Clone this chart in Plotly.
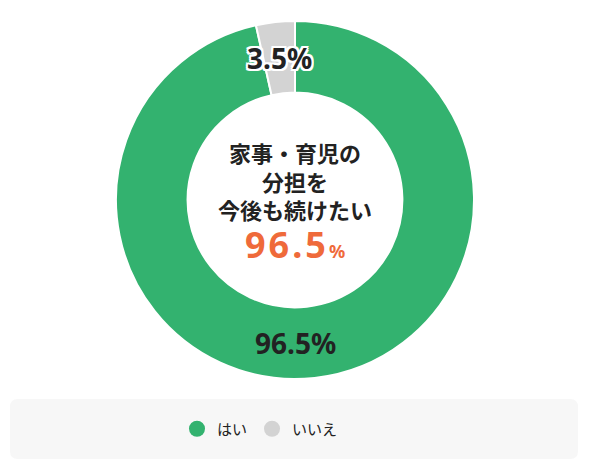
import math
import plotly.graph_objects as go

labels = ["はい", "いいえ"]
values = [96.5, 3.5]
colors = ["#33b26f", "#d3d3d3"]
center_lines = ["家事・育児の", "分担を", "今後も続けたい"]
highlight_value = 96.5

# the page body has an 8px margin, so the figure is a bit smaller than the window
OFF = 8
W, H = 590 - 2 * OFF, 471 - 2 * OFF


def fx(x):
    # screen pixel -> paper x
    return (x - OFF) / W


def fy(y):
    # screen pixel -> paper y
    return 1 - (y - OFF) / H


cx, cy = 295, 200          # donut centre on screen
r_out, hole = 179, 0.6
r_mid = r_out * (1 + hole) / 2

fig = go.Figure()

fig.add_trace(go.Pie(
    labels=labels, values=values, hole=hole, sort=False,
    direction="clockwise", rotation=0,
    marker=dict(colors=colors, line=dict(color="white", width=2)),
    textinfo="none", hoverinfo="label+percent", showlegend=False,
    domain=dict(x=[fx(cx - r_out), fx(cx + r_out)],
                y=[fy(cy + r_out), fy(cy - r_out)]),
))

# legend entries with round markers
for lab, col in zip(labels, colors):
    fig.add_trace(go.Scatter(x=[None], y=[None], mode="markers", name=lab,
                             marker=dict(color=col, size=17, symbol="circle")))

# slice labels on the ring
outline = ", ".join(f"{dx}px {dy}px 0 #fff" for dx in (-2, 0, 2) for dy in (-2, 0, 2)
                    if (dx, dy) != (0, 0))
total = sum(values)
start = 0
for lab, v in zip(labels, values):
    small = v / total < 0.1
    ang = (start + v / 2) / total * 2 * math.pi if small else math.pi
    start += v
    px = cx + r_mid * math.sin(ang)
    py = cy - r_mid * math.cos(ang)
    fig.add_annotation(
        x=fx(px), y=fy(py), xref="paper", yref="paper", showarrow=False,
        xanchor="center", yanchor="middle",
        text=f"<b>{v}%</b>",
        font=dict(family="Noto Sans, sans-serif", size=28, color="#222222",
                  shadow=outline if small else "none"),
    )

# centre text, one line per annotation
line_y = [152, 181, 209]
for txt, ly in zip(center_lines, line_y):
    fig.add_annotation(
        x=fx(cx), y=fy(ly), xref="paper", yref="paper", showarrow=False,
        xanchor="center", yanchor="middle", height=26,
        text=f"<b>{txt}</b>",
        font=dict(family="Noto Sans CJK JP, sans-serif", size=22, color="#222222"),
    )
fig.add_annotation(
    x=fx(cx), y=fy(244), xref="paper", yref="paper", showarrow=False,
    xanchor="center", yanchor="middle",
    text=(f"<b><span style='letter-spacing:3px'>{highlight_value}</span>"
          f"<span style='font-size:18px'>%</span></b>"),
    font=dict(family="Noto Sans, sans-serif", size=36, color="#ef6a3a"),
)

# rounded legend background
x0, x1, y0, y1, rr = 10, 578, 399, 459, 8
path = (f"M {fx(x0 + rr)},{fy(y0)} L {fx(x1 - rr)},{fy(y0)} "
        f"Q {fx(x1)},{fy(y0)} {fx(x1)},{fy(y0 + rr)} L {fx(x1)},{fy(y1 - rr)} "
        f"Q {fx(x1)},{fy(y1)} {fx(x1 - rr)},{fy(y1)} L {fx(x0 + rr)},{fy(y1)} "
        f"Q {fx(x0)},{fy(y1)} {fx(x0)},{fy(y1 - rr)} L {fx(x0)},{fy(y0 + rr)} "
        f"Q {fx(x0)},{fy(y0)} {fx(x0 + rr)},{fy(y0)} Z")
fig.add_shape(type="path", path=path, xref="paper", yref="paper",
              fillcolor="#f7f7f7", line=dict(width=0), layer="below")

fig.update_layout(
    width=W, height=H,
    margin=dict(l=0, r=0, t=0, b=0),
    paper_bgcolor="white", plot_bgcolor="white",
    xaxis=dict(visible=False), yaxis=dict(visible=False),
    showlegend=True,
    legend=dict(orientation="h", x=fx(177), xanchor="left", y=fy(429), yanchor="middle",
                bgcolor="rgba(0,0,0,0)", itemsizing="trace",
                font=dict(family="Noto Sans CJK JP, sans-serif", size=15, color="#222222")),
)

fig.write_html("out.html")
